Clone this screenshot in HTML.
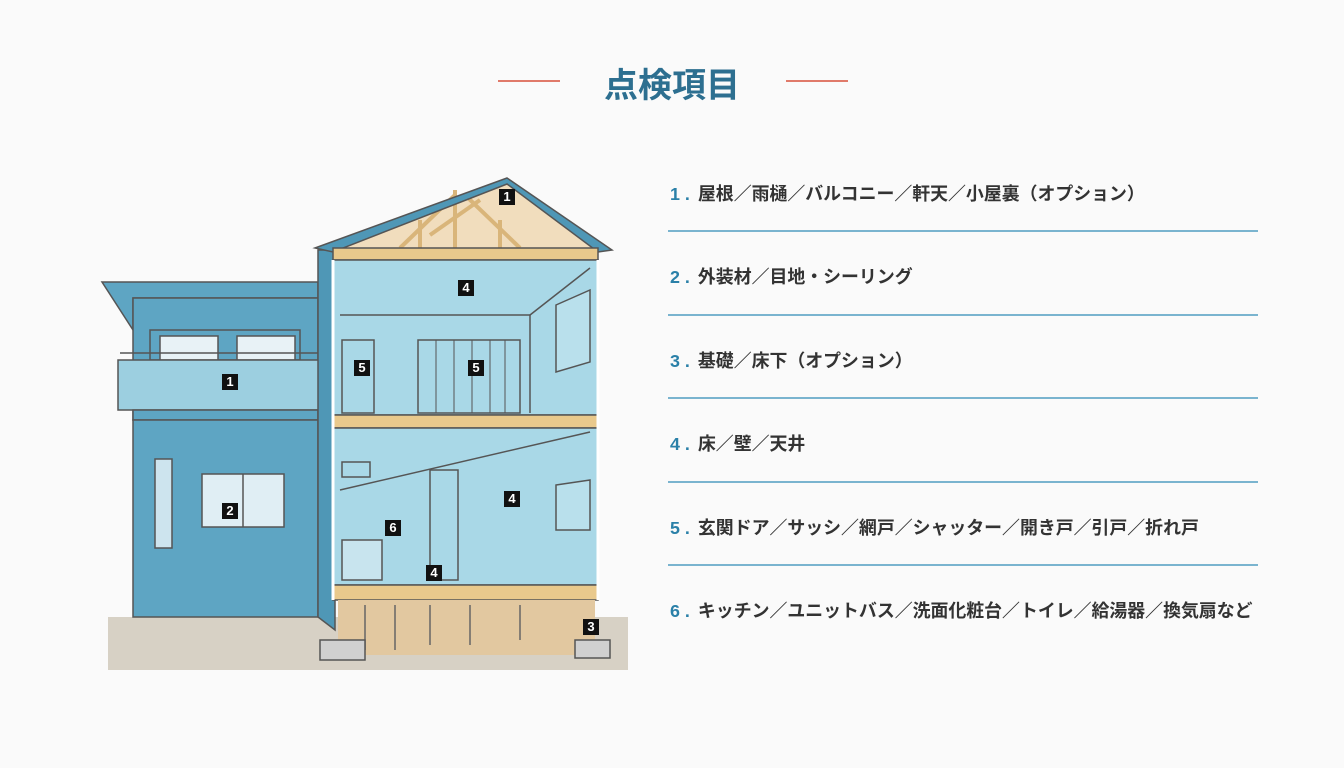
<!DOCTYPE html>
<html><head><meta charset="utf-8"><style>
body{margin:0;width:1344px;height:768px;background:#fafafa;font-family:"Liberation Sans","Noto Sans CJK JP",sans-serif;overflow:hidden;position:relative}
.t{position:absolute;left:0;width:1344px;top:58px;text-align:center;font-size:34px;font-weight:bold;color:#2d6f90}
.rl{position:absolute;top:80px;height:2px;width:62px;background:#e07a6a}
.it{position:absolute;left:670px;font-size:17.9px;font-weight:bold;color:#333;white-space:nowrap}
.it b{color:#2a80a8;margin-right:8px}
.ln{position:absolute;left:668px;width:590px;height:2px;background:#7ab4cf}
</style></head><body>
<div class="t">点検項目</div>
<div class="rl" style="left:498px"></div><div class="rl" style="left:786px"></div>
<div class="it" style="top:180px"><b>1 .</b>屋根／雨樋／バルコニー／軒天／小屋裏（オプション）</div>
<div class="ln" style="top:230px"></div>
<div class="it" style="top:263px"><b>2 .</b>外装材／目地・シーリング</div>
<div class="ln" style="top:314px"></div>
<div class="it" style="top:347px"><b>3 .</b>基礎／床下（オプション）</div>
<div class="ln" style="top:397px"></div>
<div class="it" style="top:430px"><b>4 .</b>床／壁／天井</div>
<div class="ln" style="top:481px"></div>
<div class="it" style="top:514px"><b>5 .</b>玄関ドア／サッシ／網戸／シャッター／開き戸／引戸／折れ戸</div>
<div class="ln" style="top:564px"></div>
<div class="it" style="top:597px"><b>6 .</b>キッチン／ユニットバス／洗面化粧台／トイレ／給湯器／換気扇など</div>
<svg width="1344" height="768" style="position:absolute;left:0;top:0" stroke="#555" stroke-width="1.5">
<rect x="108" y="617" width="520" height="53" fill="#d7d1c5" stroke="none"/>
<polygon points="102,282 318,282 318,298 133,298 133,330" fill="#5ea5c3"/>
<rect x="133" y="298" width="185" height="122" fill="#5ea5c3"/>
<rect x="150" y="330" width="150" height="30" fill="#5ea5c3"/>
<rect x="160" y="336" width="58" height="24" fill="#e8f2f6"/>
<rect x="237" y="336" width="58" height="24" fill="#e8f2f6"/>
<line x1="120" y1="353" x2="326" y2="353"/>
<rect x="118" y="360" width="208" height="50" fill="#9ccfe0"/>
<rect x="133" y="410" width="185" height="10" fill="#5ea5c3"/>
<rect x="133" y="420" width="185" height="197" fill="#5ea5c3"/>
<rect x="155" y="459" width="17" height="89" fill="#cde4ee"/>
<rect x="202" y="474" width="82" height="53" fill="#e0eef4"/>
<line x1="243" y1="474" x2="243" y2="527"/>
<polygon points="318,250 335,250 335,630 318,617" fill="#4f97b6"/>
<polygon points="333,250 507,181 598,250" fill="#f1ddbd" stroke="none"/>
<g stroke="#d9b57a" stroke-width="4"><line x1="400" y1="248" x2="455" y2="195"/><line x1="455" y1="190" x2="455" y2="248"/><line x1="465" y1="195" x2="520" y2="248"/><line x1="420" y1="220" x2="420" y2="248"/><line x1="500" y1="220" x2="500" y2="248"/><line x1="430" y1="235" x2="480" y2="200"/></g>
<polygon points="315,248 507,178 612,250 598,252 507,184 333,252" fill="#4f97b6"/>
<rect x="333" y="248" width="265" height="12" fill="#e9c98c"/>
<rect x="333" y="260" width="265" height="155" fill="#a9d8e7"/>
<line x1="340" y1="315" x2="530" y2="315"/>
<line x1="530" y1="315" x2="590" y2="268"/><line x1="530" y1="315" x2="530" y2="413"/>
<rect x="342" y="340" width="32" height="73" fill="none"/>
<rect x="418" y="340" width="102" height="73" fill="none"/>
<g stroke-width="1"><line x1="436" y1="340" x2="436" y2="413"/><line x1="454" y1="340" x2="454" y2="413"/><line x1="472" y1="340" x2="472" y2="413"/><line x1="490" y1="340" x2="490" y2="413"/><line x1="505" y1="340" x2="505" y2="413"/></g>
<polygon points="556,305 590,290 590,362 556,372" fill="#b9e0ec"/>
<rect x="333" y="415" width="265" height="13" fill="#e9c98c"/>
<rect x="333" y="428" width="265" height="157" fill="#a9d8e7"/>
<line x1="340" y1="490" x2="590" y2="432"/>
<rect x="342" y="462" width="28" height="15" fill="none"/>
<rect x="430" y="470" width="28" height="110" fill="none"/>
<rect x="342" y="540" width="40" height="40" fill="#c8e4ee"/>
<polygon points="556,485 590,480 590,530 556,530" fill="#b9e0ec"/>
<rect x="333" y="585" width="265" height="15" fill="#e9c98c"/>
<line x1="333" y1="260" x2="333" y2="600" stroke="#fff" stroke-width="3"/>
<line x1="598" y1="260" x2="598" y2="600" stroke="#fff" stroke-width="3"/>
<polygon points="338,600 595,600 595,655 338,655" fill="#e2c8a0" stroke="none"/>
<g stroke="#666"><line x1="365" y1="605" x2="365" y2="650"/><line x1="395" y1="605" x2="395" y2="650"/><line x1="430" y1="605" x2="430" y2="645"/><line x1="470" y1="605" x2="470" y2="645"/><line x1="520" y1="605" x2="520" y2="640"/></g>
<rect x="320" y="640" width="45" height="20" fill="#d0d0d0"/>
<rect x="575" y="640" width="35" height="18" fill="#d0d0d0"/>
</svg>
<style>.n{position:absolute;width:16px;height:16px;background:#111;color:#fff;font-size:13px;font-weight:bold;text-align:center;line-height:16px}</style>
<div class="n" style="left:499px;top:189px">1</div>
<div class="n" style="left:458px;top:280px">4</div>
<div class="n" style="left:222px;top:374px">1</div>
<div class="n" style="left:354px;top:360px">5</div>
<div class="n" style="left:468px;top:360px">5</div>
<div class="n" style="left:222px;top:503px">2</div>
<div class="n" style="left:385px;top:520px">6</div>
<div class="n" style="left:504px;top:491px">4</div>
<div class="n" style="left:426px;top:565px">4</div>
<div class="n" style="left:583px;top:619px">3</div>
</body></html>
